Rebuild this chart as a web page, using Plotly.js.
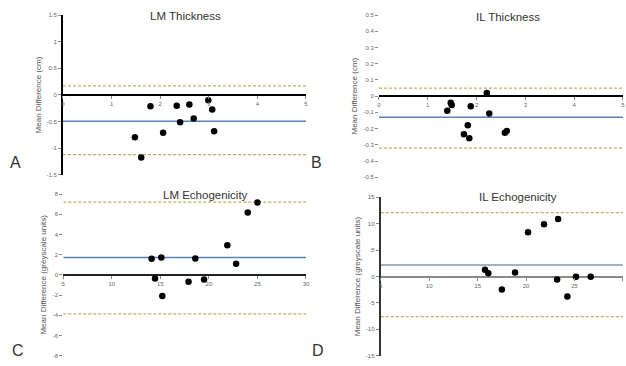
<!DOCTYPE html>
<html>
<head>
<meta charset="utf-8">
<script src="https://cdn.plot.ly/plotly-3.0.1.min.js"></script>
<style>html,body{margin:0;padding:0;background:#fff;}#chart{width:626px;height:366px;}</style>
</head>
<body>
<div id="chart"></div>
<script>
// ---------- Data ----------
// Panel A: LM Thickness
const titleA = "LM Thickness";
const yTitleA = "Mean Difference (cm)";
const xA = [1.48, 1.61, 1.80, 2.06, 2.34, 2.41, 2.60, 2.69, 2.99, 3.07, 3.11];
const yA = [-0.79, -1.17, -0.21, -0.71, -0.20, -0.51, -0.18, -0.44, -0.10, -0.27, -0.68];
const meanA = -0.49, upperA = 0.17, lowerA = -1.12;
const xTickValsA = [0, 1, 2, 3, 4, 5];
const xTickTextA = ["0", "1", "2", "3", "4", "5"];
const yTickValsA = [1.5, 1, 0.5, 0, -0.5, -1, -1.5];
const yTickTextA = ["1.5", "1", "0.5", "0", "-0.5", "-1", "-1.5"];

// Panel B: IL Thickness
const titleB = "IL Thickness";
const yTitleB = "Mean Difference (cm)";
const xB = [1.40, 1.47, 1.49, 1.88, 1.82, 1.74, 1.85, 2.21, 2.26, 2.58, 2.62];
const yB = [-0.09, -0.04, -0.055, -0.062, -0.18, -0.235, -0.26, 0.02, -0.107, -0.226, -0.214];
const meanB = -0.13, upperB = 0.05, lowerB = -0.32;
const xTickValsB = [0, 1, 2, 3, 4, 5];
const xTickTextB = ["0", "1", "2", "3", "4", "5"];
const yTickValsB = [0.5, 0.4, 0.3, 0.2, 0.1, 0, -0.1, -0.2, -0.3, -0.4, -0.5];
const yTickTextB = ["0.5", "0.4", "0.3", "0.2", "0.1", "0", "-0.1", "-0.2", "-0.3", "-0.4", "-0.5"];

// Panel C: LM Echogenicity
const titleC = "LM Echogenicity";
const yTitleC = "Mean Difference (greyscale units)";
const xC = [14.1, 15.1, 14.45, 15.2, 17.9, 18.6, 19.5, 21.9, 22.8, 24.0, 25.0];
const yC = [1.6, 1.73, -0.37, -2.1, -0.67, 1.63, -0.47, 2.93, 1.1, 6.17, 7.17];
const meanC = 1.72, upperC = 7.2, lowerC = -3.85;
const xTickValsC = [5, 10, 15, 20, 25, 30];
const xTickTextC = ["5", "10", "15", "20", "25", "30"];
const yTickValsC = [8, 6, 4, 2, 0, -2, -4, -6, -8];
const yTickTextC = ["8", "6", "4", "2", "0", "-2", "-4", "-6", "-8"];

// Panel D: IL Echogenicity
const titleD = "IL Echogenicity";
const yTitleD = "Mean Difference (greyscale units)";
const xD = [15.76, 16.1, 17.5, 18.86, 20.2, 21.85, 23.3, 23.2, 24.26, 25.15, 26.67];
const yD = [1.3, 0.63, -2.48, 0.75, 8.4, 9.9, 10.9, -0.56, -3.8, -0.06, -0.06];
const meanD = 2.2, upperD = 12.1, lowerD = -7.6;
const xTickValsD = [5, 10, 15, 20, 25, 30];
const xTickTextD = ["5", "10", "15", "20", "25", "30"];
const yTickValsD = [15, 10, 5, 0, -5, -10, -15];
const yTickTextD = ["15", "10", "5", "0", "-5", "-10", "-15"];

const panelLetters = ["A", "B", "C", "D"];

// ---------- Build ----------
const FONT = "Liberation Sans, Arial, sans-serif";
const DASH_COLOR = "#bfae5c";
const MEAN_COLOR = "#5a82be";

const panels = [
  {id: "", title: titleA, ytitle: yTitleA, x: xA, y: yA, mean: meanA, up: upperA, lo: lowerA,
   xr: [0, 5], yr: [-1.5, 1.5], xdom: [0.1006, 0.4888], ydom: [0.5219, 0.959],
   xtv: xTickValsA, xtt: xTickTextA, ytv: yTickValsA, ytt: yTickTextA,
   yline: true, ylineColor: "#000", zeroColor: "#000", meanColor: MEAN_COLOR,
   titlePos: [185, 16], letterPos: [15, 163]},
  {id: "2", title: titleB, ytitle: yTitleB, x: xB, y: yB, mean: meanB, up: upperB, lo: lowerB,
   xr: [0, 5], yr: [-0.5, 0.5], xdom: [0.6054, 0.9952], ydom: [0.5156, 0.959],
   xtv: xTickValsB, xtt: xTickTextB, ytv: yTickValsB, ytt: yTickTextB,
   yline: false, ylineColor: "#ccc", zeroColor: "#000", meanColor: MEAN_COLOR,
   titlePos: [508, 17], letterPos: [316, 163]},
  {id: "3", title: titleC, ytitle: yTitleC, x: xC, y: yC, mean: meanC, up: upperC, lo: lowerC,
   xr: [5, 30], yr: [-8, 8], xdom: [0.1011, 0.4888], ydom: [0.0281, 0.4699],
   xtv: xTickValsC, xtt: xTickTextC, ytv: yTickValsC, ytt: yTickTextC,
   yline: false, ylineColor: "#ccc", zeroColor: "#222", meanColor: MEAN_COLOR,
   titlePos: [205, 195], letterPos: [18, 350]},
  {id: "4", title: titleD, ytitle: yTitleD, x: xD, y: yD, mean: meanD, up: upperD, lo: lowerD,
   xr: [5, 30], yr: [-15, 15], xdom: [0.6082, 0.9952], ydom: [0.0281, 0.4609],
   xtv: xTickValsD, xtt: xTickTextD, ytv: yTickValsD, ytt: yTickTextD,
   yline: true, ylineColor: "#333", zeroColor: "#8a8a8a", meanColor: "#8796ad",
   titlePos: [518, 197], letterPos: [318, 350]}
];

const W = 626, H = 366;
const data = [];
const layout = {
  width: W, height: H,
  margin: {l: 0, r: 0, t: 0, b: 0},
  paper_bgcolor: "#fff", plot_bgcolor: "rgba(0,0,0,0)",
  showlegend: false,
  font: {family: FONT, color: "#444"},
  shapes: [], annotations: []
};

panels.forEach((p, i) => {
  const xa = "x" + p.id, ya = "y" + p.id;
  const xKey = "xaxis" + p.id, yKey = "yaxis" + p.id;
  const zeroPos = p.ydom[0] + (0 - p.yr[0]) / (p.yr[1] - p.yr[0]) * (p.ydom[1] - p.ydom[0]);
  layout[xKey] = {
    domain: p.xdom, range: p.xr, anchor: "free", position: zeroPos,
    showgrid: false, zeroline: false, showline: false,
    tickmode: "array", tickvals: p.xtv, ticktext: p.xtt,
    ticks: "outside", ticklen: 3, tickcolor: "#888", tickwidth: 1,
    tickfont: {size: 6, color: "#666", family: FONT}, fixedrange: true
  };
  layout[yKey] = {
    domain: p.ydom, range: p.yr, anchor: xa,
    showgrid: false, zeroline: true, zerolinecolor: p.zeroColor, zerolinewidth: 2,
    showline: p.yline, linecolor: p.ylineColor, linewidth: 2,
    tickmode: "array", tickvals: p.ytv, ticktext: p.ytt,
    ticks: "outside", ticklen: 3, tickcolor: "#888", tickwidth: 1,
    tickfont: {size: 6, color: "#666", family: FONT},
    title: {text: p.ytitle, font: {size: 8, color: "#555", family: FONT}, standoff: 4},
    fixedrange: true
  };
  // reference lines
  [[p.up, DASH_COLOR, "3px,2px", 1.3], [p.lo, DASH_COLOR, "3px,2px", 1.3], [p.mean, p.meanColor, "solid", 1.5]]
    .forEach(([yv, c, d, w]) => {
      layout.shapes.push({type: "line", xref: xa, yref: ya, x0: p.xr[0], x1: p.xr[1], y0: yv, y1: yv,
        line: {color: c, width: w, dash: d}, layer: "below"});
    });
  data.push({
    type: "scatter", mode: "markers", x: p.x, y: p.y, xaxis: xa, yaxis: ya,
    marker: {color: "#000", size: 6.5, symbol: "circle"}, hoverinfo: "x+y"
  });
  layout.annotations.push({
    xref: "paper", yref: "paper", x: p.titlePos[0] / W, y: 1 - p.titlePos[1] / H,
    xanchor: "center", yanchor: "middle", showarrow: false,
    text: p.title, font: {size: 11.5, color: "#333", family: FONT}
  });
  layout.annotations.push({
    xref: "paper", yref: "paper", x: p.letterPos[0] / W, y: 1 - p.letterPos[1] / H,
    xanchor: "center", yanchor: "middle", showarrow: false,
    text: panelLetters[i], font: {size: 16, color: "#333", family: FONT}
  });
});

Plotly.newPlot("chart", data, layout, {displayModeBar: false, staticPlot: true});
</script>
</body>
</html>
